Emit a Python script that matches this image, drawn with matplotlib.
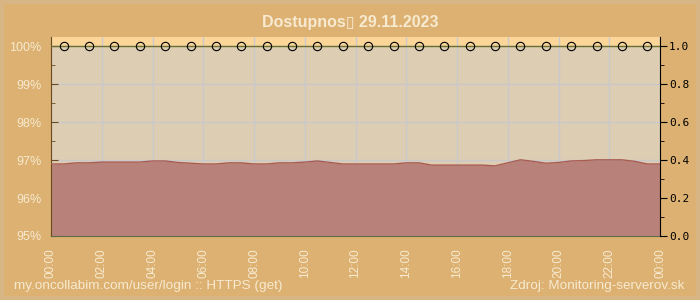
import numpy as np
import matplotlib
matplotlib.use('Agg')
import matplotlib.pyplot as plt
from matplotlib.ticker import MultipleLocator

# availability (%) sampled every half hour, 00:00 .. 24:00
hours = np.arange(0, 24.5, 0.5)
availability = [96.90, 96.90, 96.93, 96.93, 96.95, 96.95, 96.95, 96.95, 96.98, 96.98,
                96.94, 96.92, 96.90, 96.90, 96.93, 96.93, 96.90, 96.90, 96.93, 96.93,
                96.95, 96.98, 96.94, 96.90, 96.90, 96.90, 96.90, 96.90, 96.93, 96.93,
                96.87, 96.87, 96.87, 96.87, 96.87, 96.85, 96.93, 97.01, 96.97, 96.92,
                96.94, 96.98, 96.99, 97.01, 97.01, 97.01, 96.97, 96.90, 96.90]
# hourly check markers (reached 100 %)
check_hours = np.arange(0.5, 24, 1.0)
check_values = [100.0] * len(check_hours)

x_ticks = np.arange(0, 25, 2)
x_labels = ['%02d:00' % (h % 24) for h in x_ticks]
y_ticks = [95, 96, 97, 98, 99, 100]
y_labels = ['%d%%' % v for v in y_ticks]

title = 'Dostupnos\u25af 29.11.2023'
source_left = 'my.oncollabim.com/user/login :: HTTPS (get)'
source_right = 'Zdroj: Monitoring-serverov.sk'

cream = '#f7ead0'
fonts = ['Liberation Sans', 'DejaVu Sans']

fig = plt.figure(figsize=(7, 3), dpi=100)
fig.patch.set_facecolor('#d8b585')
# inner orange panel inside the light frame
bg = fig.add_axes([4 / 700, 4 / 300, 692 / 700, 292 / 300], zorder=-5)
bg.set_facecolor('#dcb172')
bg.set_xticks([])
bg.set_yticks([])
for s in bg.spines.values():
    s.set_visible(False)

ax = fig.add_axes([51 / 700, 1 - 236 / 300, 609 / 700, 199 / 300])
ax.set_facecolor('#ddcdb2')
ax.set_xlim(0, 24)
ax.set_ylim(95, 100.25)
ax.axhspan(100, 100.25, color='#fcd698', zorder=0)

ax.fill_between(hours, 95, availability, color='#b8827a', zorder=2, linewidth=0)
ax.plot(hours, availability, color='#a85c52', linewidth=1, zorder=3)
ax.axhline(100, color='#6b7030', linewidth=1, zorder=3)
ax.plot(check_hours, check_values, 'o', markersize=6, mfc='none', mec='black',
        mew=0.8, zorder=4, clip_on=False)

ax.grid(True, color='#c9c8cc', linewidth=1, zorder=1)
ax.set_axisbelow(True)
ax.set_xticks(x_ticks)
ax.set_xticklabels(x_labels, rotation=90, color=cream, fontsize=8.5, family=fonts)
ax.xaxis.set_minor_locator(MultipleLocator(0.5))
ax.set_yticks(y_ticks)
ax.set_yticklabels(y_labels, color=cream, fontsize=9, family=fonts)
ax.yaxis.set_minor_locator(MultipleLocator(0.5))
ax.tick_params(axis='x', which='both', direction='in', colors='#5e6b48', labelcolor=cream, pad=9)
ax.tick_params(axis='x', which='major', length=5)
ax.tick_params(axis='x', which='minor', length=3)
ax.tick_params(axis='y', which='both', direction='in', colors='#6b4a1e', labelcolor=cream, pad=7)
ax.tick_params(axis='y', which='major', length=5)
ax.tick_params(axis='y', which='minor', length=3)
ax.tick_params(right=False, top=False, which='both')
for side in ['top', 'right']:
    ax.spines[side].set_visible(False)
ax.spines['left'].set_color('#6b4a1e')
ax.spines['bottom'].set_color('#5e6b48')

ax2 = ax.twinx()
ax2.set_ylim(0, 1.05)
ax2.set_yticks([0.0, 0.2, 0.4, 0.6, 0.8, 1.0])
ax2.set_yticklabels(['0.0', '0.2', '0.4', '0.6', '0.8', '1.0'],
                    family='DejaVu Sans Mono', fontsize=8)
ax2.yaxis.set_minor_locator(MultipleLocator(0.1))
ax2.tick_params(axis='y', which='major', length=5, direction='out', pad=1.5, colors='black')
ax2.tick_params(axis='y', which='minor', length=3, direction='out', colors='black')
for side in ['top', 'left', 'bottom']:
    ax2.spines[side].set_visible(False)
ax2.spines['right'].set_color('black')

fig.text(0.5, 1 - 22 / 300, title, ha='center', va='center', color=cream,
         fontsize=11.5, fontweight='bold', family=fonts)
fig.text(14 / 700, 1 - 286 / 300, source_left, ha='left', va='center',
         color=cream, fontsize=9.7, family=fonts)
fig.text(684 / 700, 1 - 286 / 300, source_right, ha='right', va='center',
         color=cream, fontsize=9.7, family=fonts)

fig.savefig('out.png', dpi=100, facecolor=fig.get_facecolor())
plt.close(fig)
